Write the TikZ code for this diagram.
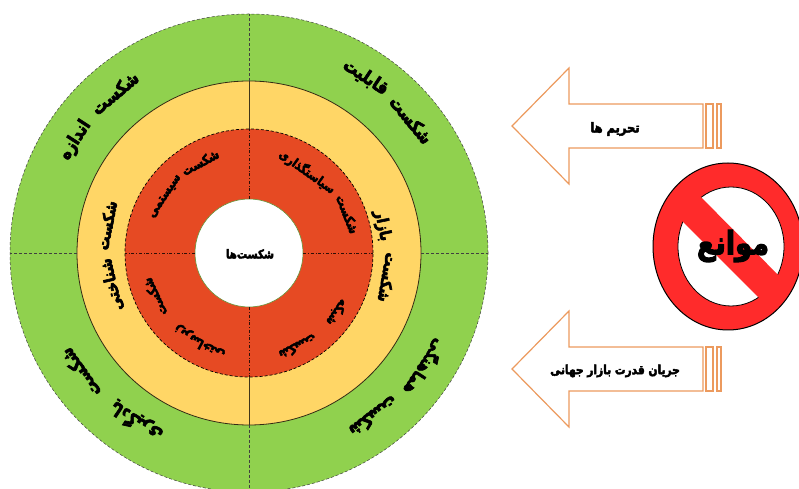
\documentclass[tikz,border=0pt]{standalone}
\usepackage{fontspec}
\TeXXeTstate=1
\newfontfamily\arabicfont[Script=Arabic,BoldFeatures={FakeBold=4}]{DejaVu Sans}
\definecolor{ringgreen}{HTML}{90D14E}
\definecolor{ringyellow}{HTML}{FFD666}
\definecolor{ringred}{HTML}{E64A23}
\definecolor{signred}{HTML}{FF2B2B}
\definecolor{arroworange}{HTML}{EC9A5E}
\tikzset{
	persian/.style={font=\arabicfont\bfseries\fontsize{#1}{#1}\selectfont,inner sep=0pt,text=black},
	sector/.style={draw=black!75,line width=.5pt,densely dashed},
	arrowbox/.style={draw=arroworange,line width=1.2pt,fill=white,line join=miter},
}
% the letters of the picture are narrower than DejaVu's
\newcommand{\narrow}[1]{\scalebox{.85}[1]{\beginR #1\endR}}
% one word of a ring, its top turned outward
\newcommand{\ringword}[5]{\node[persian=#4,rotate=#2-90] (#1) at (#2:#3) {\narrow{#5}};}
% arrow coming from the right, tip at height #1
\newcommand{\barrier}[1]{
	\draw[arrowbox] (512,#1) -- (569,#1+58) -- (569,#1+22) -- (703,#1+22) -- (703,#1-22) -- (569,#1-22) -- (569,#1-58) -- cycle;
	\draw[arrowbox] (706,#1-22) rectangle (713,#1+22);
	\draw[arrowbox] (717,#1-22) rectangle (721,#1+22);
}

\begin{document}
\begin{tikzpicture}[x=1pt,y=1pt]
	\useasboundingbox (0,0) rectangle (799,489);
	\clip (0,0) rectangle (799,489);
	\begin{scope}[shift={(249,236)}]
		\fill[ringgreen] (0,0) circle (239);
		\draw[sector] (0,0) circle (239);
		\fill[ringyellow] (0,0) circle (172);
		\draw[black!80!ringyellow,line width=.8pt] (0,0) circle (172);
		\fill[ringred] (0,0) circle (124);
		\draw[black,line width=.7pt,densely dashed] (0,0) circle (124);
		\fill[white] (0,0) circle (54);
		\draw[ringgreen!70!black,line width=.6pt] (0,0) circle (54);
		% cross
		\draw[sector] (0,172) -- (0,239);
		\draw[sector] (0,-172) -- (0,-239);
		\draw[sector] (-172,0) -- (-239,0);
		\draw[sector] (172,0) -- (239,0);
		\draw[black!75!ringyellow,line width=.7pt] (0,124) -- (0,172);
		\draw[black!75!ringyellow,line width=.7pt] (0,-124) -- (0,-172);
		\draw[black!80!ringred,line width=.6pt,dashdotted] (0,54) -- (0,124);
		\draw[black!80!ringred,line width=.6pt,dashdotted] (0,-54) -- (0,-124);
		\draw[black!80!ringred,line width=.6pt,dashdotted] (54,0) -- (124,0);
		\draw[black!80!ringred,line width=.6pt,dashdotted] (-54,0) -- (-124,0);
		\node[persian=12] (core) at (1,-1) {\narrow{شکست‌ها}};
		% outer ring
		\ringword{sizeA}{130}{209}{18}{شکست}
		\ringword{sizeB}{147}{207}{18}{اندازه}
		\ringword{abilityA}{39.4}{210}{18}{شکست}
		\ringword{abilityB}{56.4}{211}{18}{قابلیت}
		\ringword{learnA}{215.4}{207}{18}{شکست}
		\ringword{learnB}{236.2}{203}{18}{یادگیری}
		\ringword{linkA}{307.3}{206}{18}{شکست}
		\ringword{linkB}{327}{210}{16.5}{هماهنگی}
		% middle ring
		\ringword{mindA}{169}{145}{16}{شکست}
		\ringword{mindB}{193}{141}{16}{شناختی}
		\ringword{marketA}{350}{141}{16}{شکست}
		\ringword{marketB}{11.5}{136}{16}{بازار}
		% inner ring
		\ringword{systemA}{118.3}{103}{13}{شکست}
		\ringword{systemB}{146}{101}{13}{سیستمی}
		\ringword{policyA}{21.5}{106}{13}{شکست}
		\ringword{policyB}{54.4}{100}{12.5}{سیاستگذاری}
		\ringword{baseA}{205}{104}{13}{شکست}
		\ringword{baseB}{241}{102}{13}{زیرساختی}
		\ringword{netA}{297.5}{106}{13}{شکست}
		\ringword{netB}{326}{106}{13}{شبکه}
	\end{scope}
	% arrows
	\barrier{363}
	\node[persian=13.5] (sanction) at (615,360) {\narrow{تحریم ها}};
	\barrier{120}
	\node[persian=12.5] (power) at (615,118) {\narrow{جریان قدرت بازار جهانی}};
	% sign
	\draw[black,line width=1pt,fill=signred] (728,242.5) ellipse (75 and 83.5);
	\draw[black,line width=.8pt,fill=white] (731,242.5) ellipse (53 and 59.5);
	\begin{scope}
		\clip (728,242.5) ellipse (74 and 82.5);
		\fill[signred] (690,303) -- (790,202) -- (770,180) -- (670,280) -- cycle;
	\end{scope}
	\node[persian=32] (obstacle) at (733,243) {\narrow{موانع}};
\end{tikzpicture}
\end{document}
